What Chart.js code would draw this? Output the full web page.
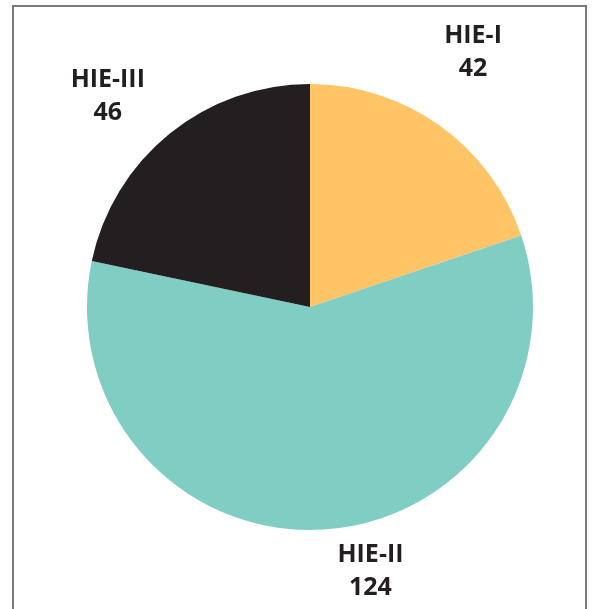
<!DOCTYPE html>
<html>
<head>
<meta charset="utf-8">
<script src="https://cdn.jsdelivr.net/npm/chart.js@4.4.1/dist/chart.umd.min.js"></script>
<style>
  html, body { margin: 0; padding: 0; background: #fff; }
  body { width: 592px; height: 609px; position: relative; overflow: hidden; }
  #frame { position: absolute; left: 12px; top: 5px; width: 575px; height: 640px; border: 2px solid #7a7a7a; box-sizing: border-box; }
  #wrap { position: absolute; left: 0; top: 0; width: 592px; height: 609px; }
</style>
</head>
<body>
<div id="frame"></div>
<div id="wrap"><canvas id="c" width="592" height="609"></canvas></div>
<script>
const categories = ["HIE-I", "HIE-II", "HIE-III"];
const counts = [42, 124, 46];
const sliceColors = ["#FFC466", "#80CDC4", "#231F20"];

// label placement relative to arc mid-angle: [angle offset (deg), radius factor]
const labelPlacement = [[-3, 1.355], [-9.5, 1.215], [-4.75, 1.31]];

const outerLabels = {
  id: 'outerLabels',
  afterDatasetsDraw(chart) {
    const ctx = chart.ctx;
    const meta = chart.getDatasetMeta(0);
    ctx.save();
    ctx.fillStyle = '#231F20';
    ctx.font = 'bold 25px "Open Sans"';
    ctx.textAlign = 'center';
    ctx.textBaseline = 'middle';
    meta.data.forEach((arc, i) => {
      const p = arc.getProps(['x', 'y', 'startAngle', 'endAngle', 'outerRadius'], true);
      const mid = (p.startAngle + p.endAngle) / 2 + labelPlacement[i][0] * Math.PI / 180;
      const r = p.outerRadius * labelPlacement[i][1];
      const cx = p.x + Math.cos(mid) * r;
      const cy = p.y + Math.sin(mid) * r;
      ctx.fillText(categories[i], cx, cy - 16.5);
      ctx.fillText(String(counts[i]), cx, cy + 16.5);
    });
    ctx.restore();
  }
};

new Chart(document.getElementById('c'), {
  type: 'pie',
  data: {
    labels: categories,
    datasets: [{
      data: counts,
      backgroundColor: sliceColors,
      borderWidth: 0
    }]
  },
  options: {
    responsive: false,
    animation: false,
    layout: { padding: { left: 87, right: 59, top: 84, bottom: 79 } },
    plugins: {
      legend: { display: false },
      tooltip: { enabled: false }
    }
  },
  plugins: [outerLabels]
});
</script>
</body>
</html>
